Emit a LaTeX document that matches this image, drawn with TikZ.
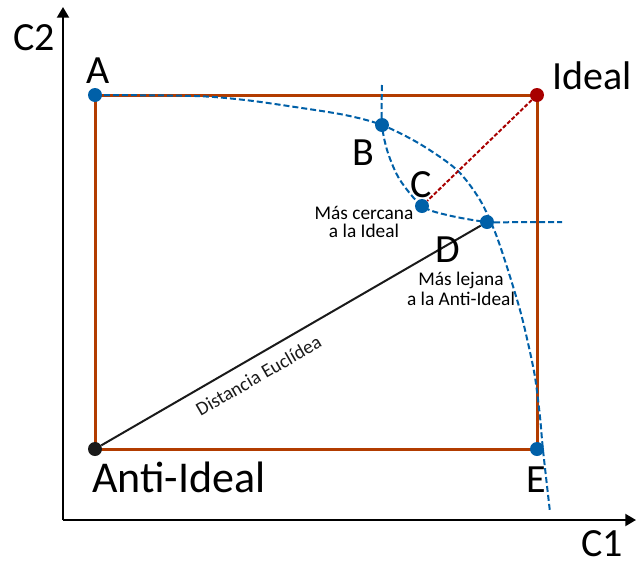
\documentclass[tikz,border=0pt]{standalone}
\usepackage{fontspec}
\setmainfont{Carlito}
\usepackage{tikz}
\usetikzlibrary{arrows.meta,positioning,calc}
\definecolor{tpbrn}{HTML}{B23C00}
\definecolor{tpblu}{HTML}{0060A8}
\definecolor{tpred}{HTML}{A80000}
\definecolor{tpdrk}{HTML}{1A1A1A}

\begin{document}
\begin{tikzpicture}[x=0.75pt,y=-0.75pt,
  punto/.style={circle,inner sep=0pt,minimum size=10.5pt,fill=tpblu},
  big/.style={font=\fontsize{30}{36}\selectfont,inner sep=0pt,anchor=base},
  note/.style={font=\fontsize{14.5}{13.5}\selectfont,align=center,inner sep=0pt},
  eje/.style={-{Triangle[length=8pt,width=9pt]},line width=1.5pt,black},
  marco/.style={tpbrn,line width=2.25pt},
  curva/.style={tpblu,line width=1.5pt,dash pattern=on 4.5pt off 2.25pt},
  dist/.style={tpred,line width=1.5pt,dash pattern=on 3pt off 1.5pt},
  eucl/.style={tpdrk,line width=1.5pt}]
\useasboundingbox (0,0) rectangle (637,565);

% ---------------- axes ------------------------------------------------------
\coordinate (o) at (63,520);
\coordinate (ytip) at (63,7);
\coordinate (xtip) at (636,520);
\draw[eje] (o) -- (ytip);
\draw[eje] (o) -- (xtip);
\node[big] (c2) at (34,50) {C2};
\node[big] (c1) at (602,556) {C1};

% ---------------- corners and the box between them --------------------------
\coordinate (A) at (95,95);
\coordinate (I) at (537,95);
\coordinate (N) at (95,449);
\coordinate (E) at (537,449);
\coordinate (B) at (382,125);
\coordinate (C) at (422,206);
\coordinate (D) at (487,222);
\draw[marco] (N) -- (A) -- (I) -- (E) -- cycle;

% ---------------- dashed curves ----------------------------------------------
\draw[curva] plot[smooth] coordinates {(A) (195,96) (245,100) (295,107)
  (345,115) (B) (420,144) (457,170) (480,200) (495,232) (507,267) (520,310)
  (528,343) (535,377) (540,417) (543,450) (550,512)};
\draw[curva] plot[smooth] coordinates {(382,85) (B) (388,153) (400,180) (C)
  (447,215) (D) (520,222) (562,222)};

% ---------------- points ------------------------------------------------------
\node[punto] (pa) at (A) {};
\node[punto] (pb) at (B) {};
\node[punto] (pc) at (C) {};
\node[punto] (pd) at (D) {};
\node[punto] (pe) at (E) {};
\node[punto,fill=tpred] (ideal) at (I) {};
\node[punto,fill=tpdrk] (anti) at (N) {};

\draw[dist] (ideal) -- (pc);
\draw[eucl] (anti) -- node[note,sloped,below,pos=0.39,inner sep=8pt]
  {Distancia Euclídea} (pd);

% ---------------- labels ------------------------------------------------------
\node[big] (la) at (98,83) {A};
\node[big,anchor=base west] (lideal) at (552,89) {Ideal};
\node[big] (lb) at (363,165) {B};
\node[big] (lc) at (421,197) {C};
\node[big] (ld) at (448,262) {D};
\node[big] (le) at (536,492) {E};
\node[big,anchor=base west,font=\fontsize{33}{39}\selectfont] (lanti) at (92,492)
  {Anti-Ideal};
\node[note] (ncerca) at (364,222) {Más cercana\\a la Ideal};
\node[note] (nlejos) at (461,289) {Más lejana\\[2pt]a la Anti-Ideal};

\end{tikzpicture}
\end{document}
